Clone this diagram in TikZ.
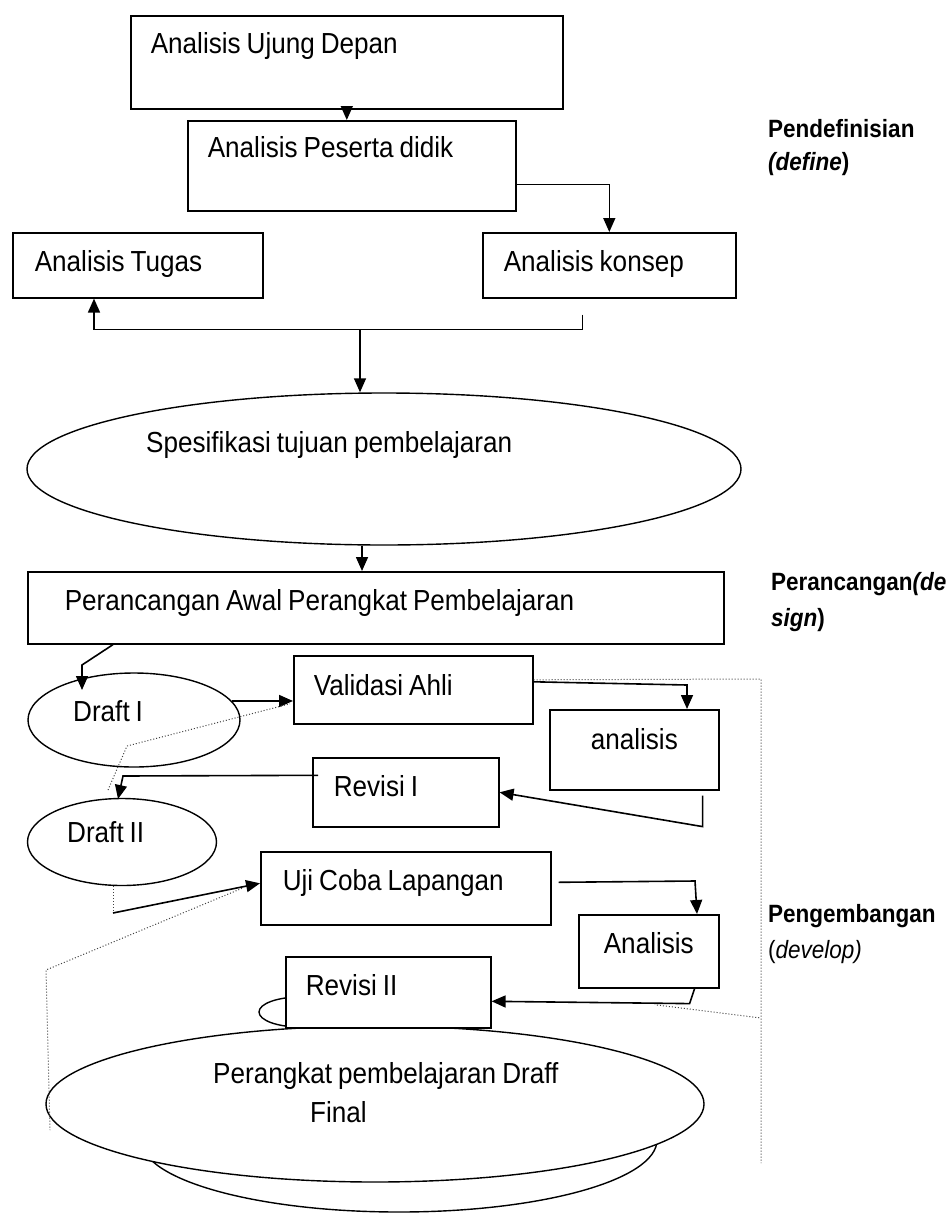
\documentclass[tikz,border=0pt]{standalone}
\usepackage{fontspec}
\setmainfont[FakeStretch=0.9]{Liberation Sans}
\usetikzlibrary{arrows.meta,shapes.geometric,calc}
\newcommand{\isi}{\fontsize{29}{34}\selectfont\spaceskip=6pt\relax}
\newcommand{\tahapfont}{\fontsize{25}{33}\selectfont\bfseries}
\tikzset{
  kotak/.style={draw, line width=1.6pt, anchor=north west, align=left, inner sep=0pt, text height=21pt, font=\isi, execute at begin node={\spaceskip=6pt\relax}},
  lonjong/.style={draw, ellipse, line width=1.4pt, inner sep=0pt},
  teks/.style={anchor=base west, inner sep=0pt, font=\isi},
  tahap/.style={anchor=north west, align=left, inner sep=0pt, font=\tahapfont},
  panah/.style={line width=1.6pt, -{Triangle[length=14pt,width=12pt]}},
  garis/.style={line width=1.6pt},
  titik/.style={dotted, line width=1pt, black!75},
}
\begin{document}
\begin{tikzpicture}[x=1pt,y=-1pt]
  \useasboundingbox (0,0) rectangle (951,1215);
  % define
  \node[kotak, inner xsep=20pt, inner ysep=17pt, text width=392pt, text depth=38pt] (ujung) at (130,15) {Analisis Ujung Depan};
  \node[kotak, inner xsep=20pt, inner ysep=16pt, text width=288pt, text depth=37pt] (peserta) at (187,120) {Analisis Peserta didik};
  \node[kotak, inner xsep=22pt, inner ysep=18pt, text width=206pt, text depth=8pt] (tugas) at (12,232) {Analisis Tugas};
  \node[kotak, inner xsep=21pt, inner ysep=18pt, text width=211pt, text depth=8pt] (konsep) at (482,232) {Analisis konsep};
  \node[lonjong, minimum width=714pt, minimum height=152pt] (spesifikasi) at (384,469) {};
  \node[teks] (tspesifikasi) at (146,452) {Spesifikasi tujuan pembelajaran};
  \draw[panah] (ujung.south) -- (ujung.south |- peserta.north);
  \draw[panah] ($(peserta.south east)+(0,-27)$) -| (konsep.north);
  \coordinate (ujungkanan) at ($(konsep.south)+(-27,16)$);
  \coordinate (simpul) at ($(ujungkanan)+(0,15)$);
  \coordinate (tipT) at ($(tugas.south west)+(82,0)$);
  \draw[garis] (ujungkanan) -- (simpul);
  \draw[panah] (simpul) -- (simpul -| tipT) -- (tipT);
  \draw[panah] (simpul -| 360,0) -- (spesifikasi.north -| 360,0);
  % design
  \node[kotak, inner xsep=37pt, inner ysep=18pt, text width=622pt, text depth=15pt] (perancangan) at (27,571) {Perancangan Awal Perangkat Pembelajaran};
  \draw[panah] (spesifikasi.south -| 362,0) -- (perancangan.north -| 362,0);
  % develop
  \node[lonjong, minimum width=212pt, minimum height=94pt] (draft1) at (134,720) {};
  \node[teks] (tdraft1) at (73,721) {Draft I};
  \node[kotak, inner xsep=20pt, inner ysep=19pt, text width=199pt, text depth=9pt] (validasi) at (293,655) {Validasi Ahli};
  \node[kotak, align=center, inner ysep=19pt, text width=169pt, text depth=21pt] (analisis1) at (549,709) {analisis};
  \node[kotak, inner xsep=21pt, inner ysep=18pt, text width=144pt, text depth=12pt] (revisi1) at (312,757) {Revisi I};
  \node[lonjong, minimum width=189pt, minimum height=87pt] (draft2) at (122,842) {};
  \node[teks] (tdraft2) at (67,842) {Draft II};
  \node[kotak, inner xsep=22pt, inner ysep=18pt, text width=246pt, text depth=16pt] (ujicoba) at (260,851) {Uji Coba Lapangan};
  \node[kotak, align=center, inner ysep=18pt, text width=140pt, text depth=16pt] (analisis2) at (578,914) {Analisis};
  \node[lonjong, minimum width=82pt, minimum height=30pt] (lingkar) at (300,1012) {};
  \node[lonjong, minimum width=516pt, minimum height=144pt] (alas) at (399,1140) {};
  \node[lonjong, fill=white, minimum width=658pt, minimum height=156pt] (final) at (375,1104) {};
  \node[kotak, fill=white, inner xsep=20pt, inner ysep=18pt, text width=165pt, text depth=14pt] (revisi2) at (285,956) {Revisi II};
  \node[teks] (tfinal1) at (213,1083) {Perangkat pembelajaran Draff};
  \node[teks] (tfinal2) at (310,1122) {Final};
  \coordinate (belok1) at (82,665);
  \draw[panah] ($(perancangan.south west)+(86,0)$) -- (belok1) -- ($(draft1.center)+(-52,-30)$);
  \draw[panah] (draft1.11) -- (draft1.11 -| validasi.west);
  \draw[panah] ($(validasi.east)+(0,-8)$) -- (687,685) -- (analisis1.north -| 687,0);
  \coordinate (a1bawah) at ($(analisis1.south east)+(-17,5)$);
  \draw[panah] (a1bawah) -- ++(0,31) -- (revisi1.east);
  \draw[panah] ($(revisi1.west)+(6,-17)$) -- (123,776) -- ($(draft2.center)+(-4,-43)$);
  \coordinate (sudut2) at (113,913);
  \draw[titik] (draft2.south -| sudut2) -- (sudut2);
  \draw[panah] (sudut2) -- ($(ujicoba.west)+(0,-5)$);
  \draw[panah] ($(ujicoba.east)+(7,-6)$) -- (695,881) -- (analisis2.north -| 697,0);
  \draw[panah] ($(analisis2.south east)+(-25,0)$) -- ++(-5,15) -- ($(revisi2.east)+(0,9)$);
  % garis titik-titik
  \draw[titik] (108,790) -- (127,746) -- ($(validasi.west)+(-3,14)$);
  \draw[titik] ($(validasi.east)+(0,-10)$) -- (761,679) -- (761,1163);
  \draw[titik] (657,1005) -- (761,1018);
  \draw[titik] ($(ujicoba.west)+(-18,0)$) -- (46,970) -- (50,1130);
  % tahap
  \node[tahap] (define) at (768,119) {Pendefinisian\\\textit{(define})};
  \node[tahap] (design) at (771,572) {Perancangan\textit{(de}\\[3pt]\textit{sign})};
  \node[tahap] (develop) at (768,904) {Pengembangan\\[3pt]{\mdseries(\textit{develop)}}};
\end{tikzpicture}
\end{document}
